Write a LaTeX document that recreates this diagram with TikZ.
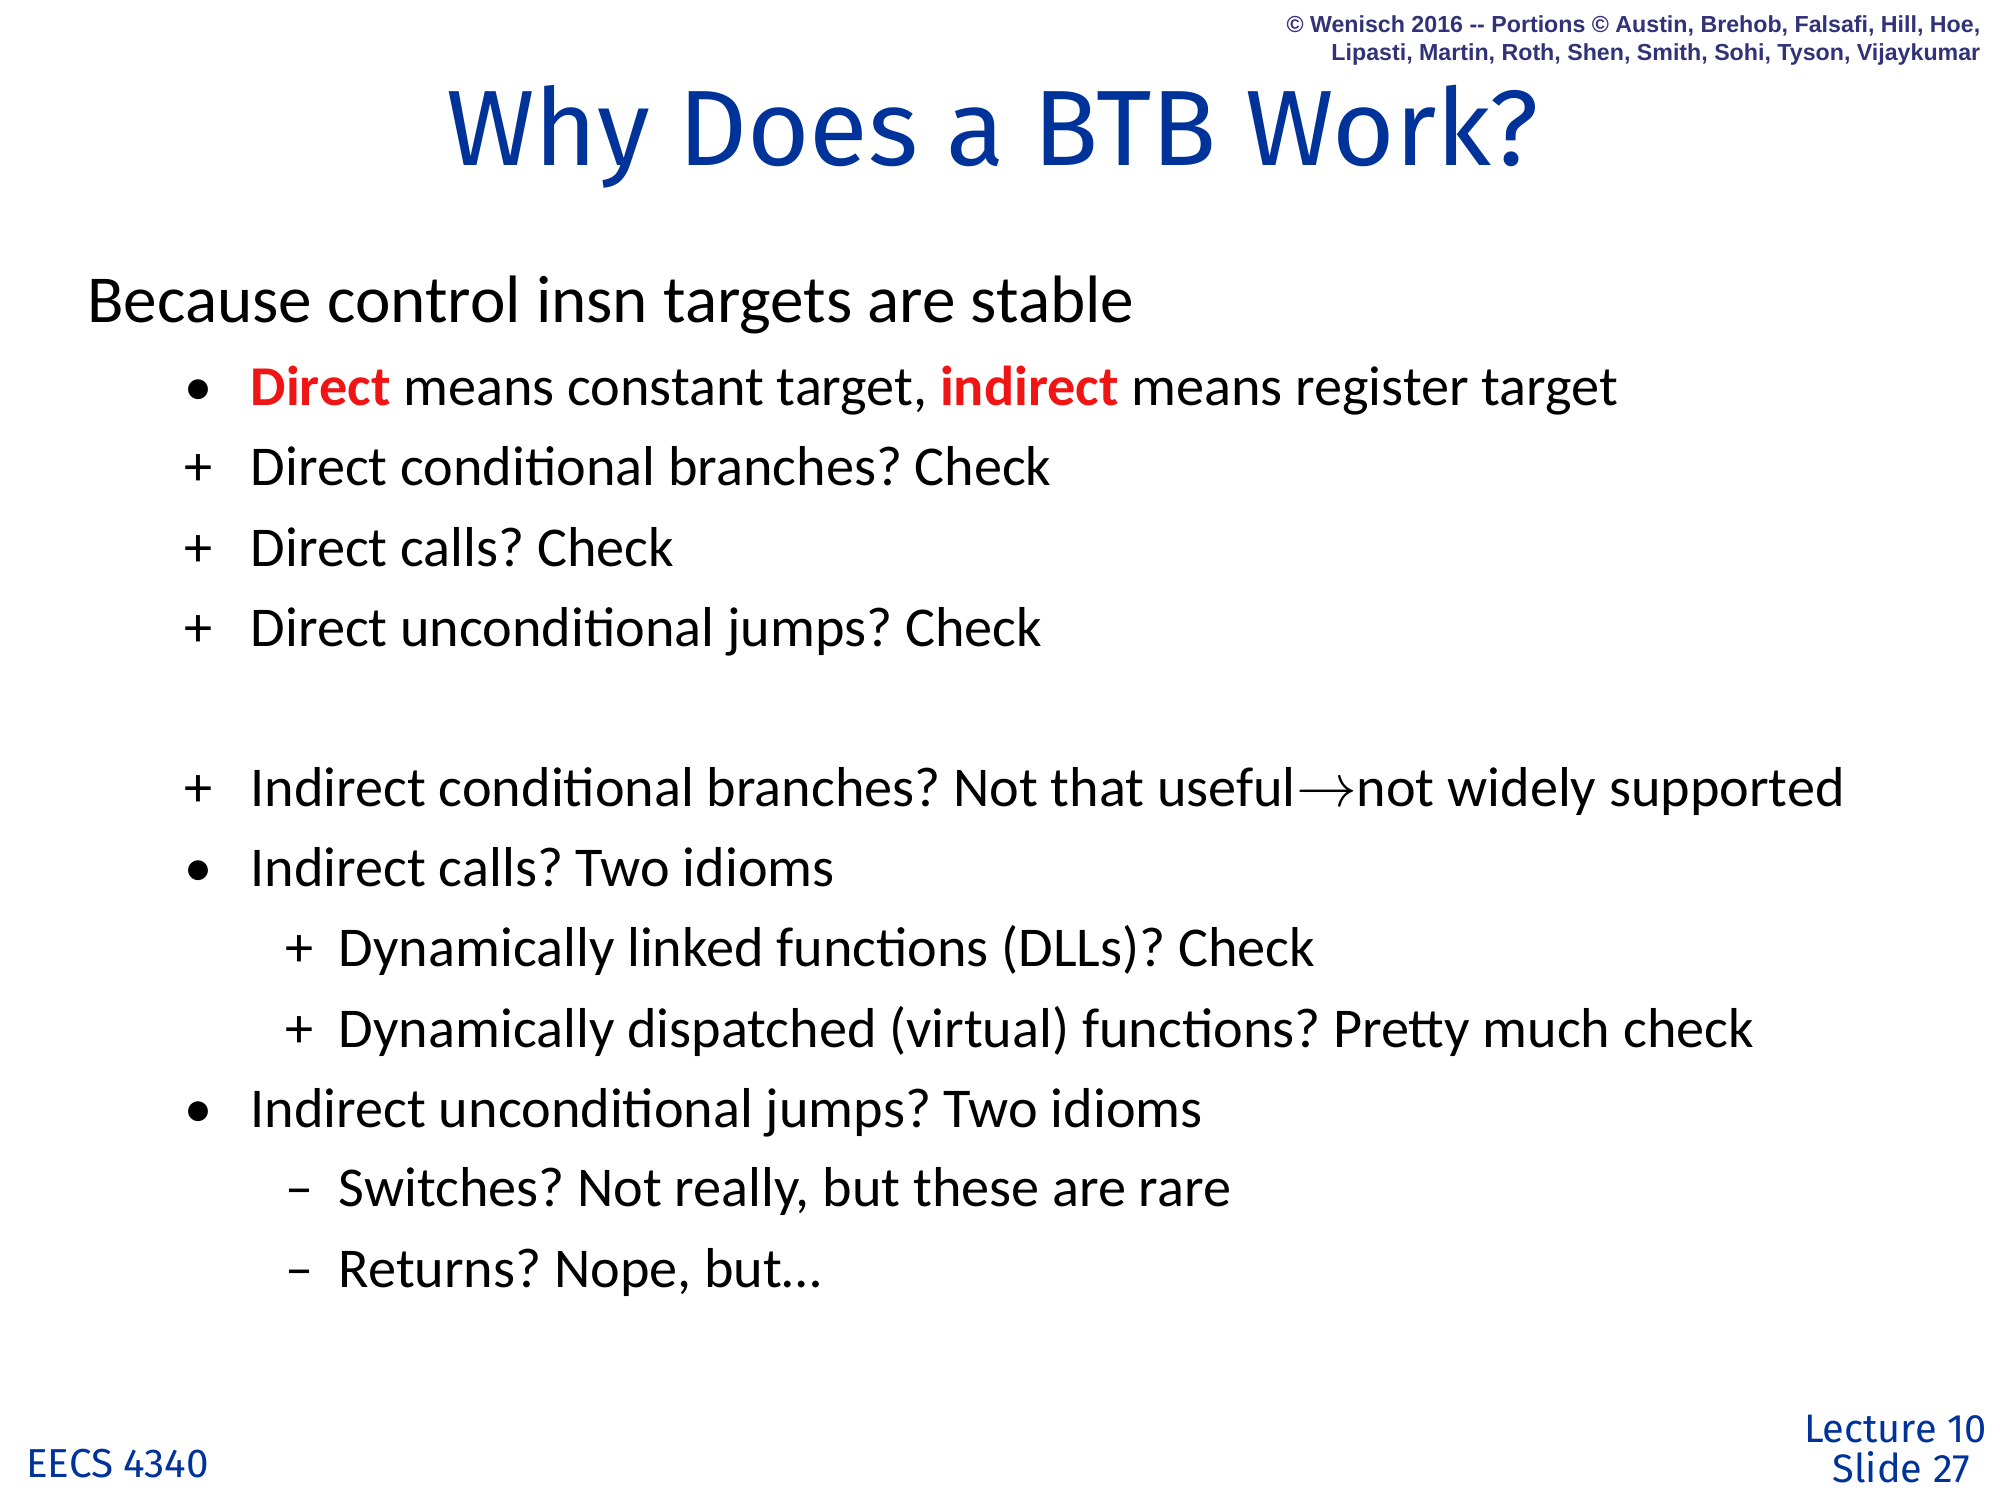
\documentclass[tikz,border=0pt]{standalone}
\usepackage{fontspec}
\setmainfont{Carlito}
\newfontfamily\titlefont{Fira Sans}
\newfontfamily\notefont{Liberation Sans}
\definecolor{slideblue}{RGB}{0,51,153}
\definecolor{notegray}{RGB}{50,50,120}
\definecolor{keyred}{RGB}{240,20,20}
\frenchspacing
\begin{document}
\begin{tikzpicture}[x=0.012755cm,y=-0.012755cm,
  body/.style={anchor=base west,inner sep=0pt,font=\fontsize{16}{20}\selectfont},
  bulletmark/.style={anchor=base,inner sep=0pt,font=\fontsize{16}{20}\selectfont}]
\useasboundingbox (0,0) rectangle (1568,1176);
\node[anchor=north east,align=right,inner sep=0pt,text=notegray,font=\notefont\bfseries\fontsize{6.6}{8}\selectfont] (copy) at (1553,12)
  {© Wenisch 2016 -- Portions © Austin, Brehob, Falsafi, Hill, Hoe,\\Lipasti, Martin, Roth, Shen, Smith, Sohi, Tyson, Vijaykumar};
\node[anchor=base,inner sep=0pt,text=slideblue,font=\titlefont\fontsize{30.5}{36}\selectfont] (title) at (778,130) {Why Does a BTB Work?};
\node[anchor=base west,inner sep=0pt,font=\fontsize{19.1}{22}\selectfont] (intro) at (68,253) {Because control insn targets are stable};
\node[bulletmark] (m1) at (156,318) {•};
\node[body] (l1) at (196,318) {\textcolor{keyred}{\bfseries Direct} means constant target, \textcolor{keyred}{\bfseries indirect} means register target};
\node[bulletmark] (m2) at (156,381) {+};
\node[body] (l2) at (196,381) {Direct conditional branches? Check};
\node[bulletmark] (m3) at (156,444) {+};
\node[body] (l3) at (196,444) {Direct calls? Check};
\node[bulletmark] (m4) at (156,507) {+};
\node[body] (l4) at (196,507) {Direct unconditional jumps? Check};
\node[bulletmark] (m5) at (156,632) {+};
\node[body] (l5) at (196,632) {Indirect conditional branches? Not that useful$\rightarrow$not widely supported};
\node[bulletmark] (m6) at (156,695) {•};
\node[body] (l6) at (196,695) {Indirect calls? Two idioms};
\node[bulletmark] (m7) at (235,758) {+};
\node[body] (l7) at (265,758) {Dynamically linked functions (DLLs)? Check};
\node[bulletmark] (m8) at (235,821) {+};
\node[body] (l8) at (265,821) {Dynamically dispatched (virtual) functions? Pretty much check};
\node[bulletmark] (m9) at (156,884) {•};
\node[body] (l9) at (196,884) {Indirect unconditional jumps? Two idioms};
\node[bulletmark] (m10) at (235,946) {–};
\node[body] (l10) at (265,946) {Switches? Not really, but these are rare};
\node[bulletmark] (m11) at (235,1009) {–};
\node[body] (l11) at (265,1009) {Returns? Nope, but…};
\node[anchor=base west,inner sep=0pt,text=slideblue,font=\titlefont\fontsize{11.5}{14}\selectfont] (course) at (20,1158) {EECS 4340};
\node[anchor=base east,align=right,inner sep=0pt,text=slideblue,font=\titlefont\fontsize{11.3}{11.5}\selectfont] (slide) at (1558,1131) {Lecture 10};
\node[anchor=base east,inner sep=0pt,text=slideblue,font=\titlefont\fontsize{11.3}{11.5}\selectfont] (slidenum) at (1545,1162) {Slide 27};
\end{tikzpicture}
\end{document}
